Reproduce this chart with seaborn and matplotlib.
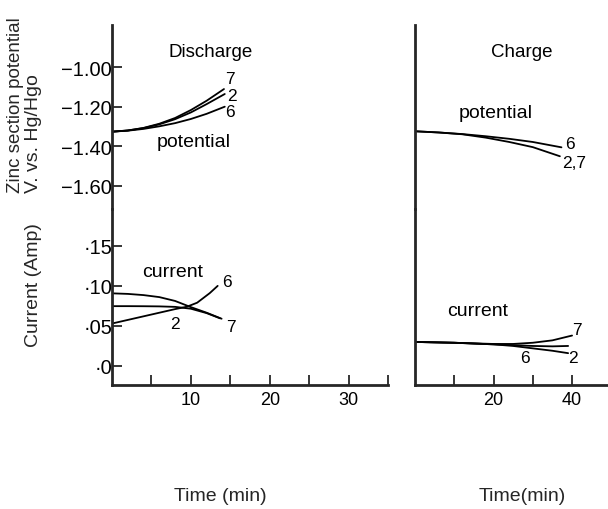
import matplotlib
matplotlib.use("Agg")
import matplotlib.pyplot as plt
import seaborn as sns
import pandas as pd

# ---------------- data ----------------
# Discharge: zinc section potential (V vs Hg/HgO), cells 7, 2, 6
dis_pot_time_7 = [0, 2, 4, 6, 8, 10, 12, 14.2]
dis_pot_7 = [-1.326, -1.320, -1.307, -1.286, -1.257, -1.217, -1.170, -1.111]
dis_pot_time_2 = [0, 2, 4, 6, 8, 10, 12, 14.3]
dis_pot_2 = [-1.326, -1.320, -1.308, -1.289, -1.263, -1.229, -1.187, -1.136]
dis_pot_time_6 = [0, 2, 4, 6, 8, 10, 12, 14.3]
dis_pot_6 = [-1.326, -1.321, -1.312, -1.299, -1.283, -1.262, -1.236, -1.200]

# Discharge: current (A)
dis_cur_time_7 = [0, 2, 4, 6, 8, 10, 12, 13.9]
dis_cur_7 = [0.0907, 0.0900, 0.0885, 0.0860, 0.0812, 0.0735, 0.0665, 0.0590]
dis_cur_time_2 = [0, 2, 4, 6, 8, 10, 12, 13.7]
dis_cur_2 = [0.0747, 0.0747, 0.0746, 0.0744, 0.0738, 0.0715, 0.0660, 0.0595]
dis_cur_time_6 = [0, 2, 4, 6, 8, 9.5, 10.8, 12.4, 13.4]
dis_cur_6 = [0.053, 0.0575, 0.062, 0.0665, 0.071, 0.074, 0.079, 0.091, 0.100]

# Charge: potential
chg_pot_time_6 = [0, 6, 12, 18, 24, 30, 37.3]
chg_pot_6 = [-1.324, -1.330, -1.338, -1.349, -1.362, -1.378, -1.405]
chg_pot_time_27 = [0, 6, 12, 18, 24, 30, 36.9]
chg_pot_27 = [-1.324, -1.330, -1.339, -1.356, -1.378, -1.404, -1.450]

# Charge: current
chg_cur_time_7 = [0, 10, 20, 25, 30, 35, 40]
chg_cur_7 = [0.030, 0.029, 0.0275, 0.0275, 0.029, 0.032, 0.038]
chg_cur_time_2 = [0, 10, 20, 25, 30, 35, 39]
chg_cur_2 = [0.030, 0.029, 0.027, 0.026, 0.025, 0.0245, 0.025]
chg_cur_time_6 = [0, 10, 20, 25, 30, 35, 39]
chg_cur_6 = [0.030, 0.029, 0.027, 0.025, 0.022, 0.019, 0.016]

# ticks
pot_ticks = [-1.00, -1.20, -1.40, -1.60]
pot_labels = ["\u22121.00", "\u22121.20", "\u22121.40", "\u22121.60"]
cur_ticks = [0.15, 0.10, 0.05, 0.0]
cur_labels = ["\u00b715", "\u00b710", "\u00b705", "\u00b70"]
dis_xticks = [5, 10, 15, 20, 25, 30, 35]
dis_xlabels = ["", "10", "", "20", "", "30", ""]
chg_xticks = [10, 20, 30, 40]
chg_xlabels = ["", "20", "", "40"]

# ---------------- style ----------------
sns.set_style("ticks")
plt.rcParams["font.family"] = ["Liberation Sans", "DejaVu Sans"]

W, H = 608, 510
fig = plt.figure(figsize=(W / 100, H / 100), dpi=100)

def px_axes(x0, y0, x1, y1):
    return fig.add_axes([x0 / W, 1 - y1 / H, (x1 - x0) / W, (y1 - y0) / H])

ax_dp = px_axes(112, 26, 388, 210)
ax_dc = px_axes(112, 210, 388, 386)
ax_cp = px_axes(415, 26, 607, 210)
ax_cc = px_axes(415, 210, 607, 386)

LW = 1.3
K = "black"

def line(ax, x, y):
    df = pd.DataFrame({"t": x, "v": y})
    sns.lineplot(data=df, x="t", y="v", ax=ax, color=K, lw=LW, sort=False, estimator=None)

line(ax_dp, dis_pot_time_7, dis_pot_7)
line(ax_dp, dis_pot_time_2, dis_pot_2)
line(ax_dp, dis_pot_time_6, dis_pot_6)
line(ax_dc, dis_cur_time_7, dis_cur_7)
line(ax_dc, dis_cur_time_2, dis_cur_2)
line(ax_dc, dis_cur_time_6, dis_cur_6)
line(ax_cp, chg_pot_time_6, chg_pot_6)
line(ax_cp, chg_pot_time_27, chg_pot_27)
line(ax_cc, chg_cur_time_7, chg_cur_7)
line(ax_cc, chg_cur_time_2, chg_cur_2)
line(ax_cc, chg_cur_time_6, chg_cur_6)

pot_lim = (-1.716, -0.788)
cur_lim = (-0.02375, 0.196)
for ax in (ax_dp, ax_cp):
    ax.set_ylim(*pot_lim)
for ax in (ax_dc, ax_cc):
    ax.set_ylim(*cur_lim)
for ax in (ax_dp, ax_dc):
    ax.set_xlim(0, 35)
for ax in (ax_cp, ax_cc):
    ax.set_xlim(0, 48.9)

for ax in (ax_dp, ax_dc, ax_cp, ax_cc):
    ax.set_xlabel("")
    ax.set_ylabel("")
    ax.patch.set_alpha(0)
    for s in ("top", "right"):
        ax.spines[s].set_visible(False)
    ax.spines["left"].set_linewidth(2.0)
    ax.spines["bottom"].set_linewidth(2.0)
    ax.tick_params(direction="in", length=7, width=1.1, colors=K)
    ax.tick_params(axis="x", labelsize=13, pad=4)
    ax.tick_params(axis="y", labelsize=14.5, pad=0)

for ax in (ax_dp, ax_cp):
    ax.spines["bottom"].set_visible(False)
    ax.set_xticks([])

ax_dp.set_yticks(pot_ticks, pot_labels)
ax_dc.set_yticks(cur_ticks, cur_labels)
ax_cp.set_yticks([])
ax_cc.set_yticks([])
ax_dc.set_xticks(dis_xticks, dis_xlabels)
ax_cc.set_xticks(chg_xticks, chg_xlabels)

FS = 14
NS = 12.5
def t(ax, x, y, s, size=FS):
    ax.text(x, y, s, ha="center", va="center", fontsize=size, color=K)

t(ax_dp, 12.5, -0.924, "Discharge", 13.5)
t(ax_dp, 10.4, -1.378, "potential")
t(ax_dp, 15.0, -1.056, "7", NS)
t(ax_dp, 15.2, -1.142, "2", NS)
t(ax_dp, 15.0, -1.224, "6", NS)

t(ax_dc, 7.7, 0.1175, "current")
t(ax_dc, 14.6, 0.106, "6", NS)
t(ax_dc, 8.0, 0.0525, "2", NS)
t(ax_dc, 15.1, 0.049, "7", NS)

t(ax_cp, 27.2, -0.924, "Charge", 13.5)
t(ax_cp, 20.6, -1.227, "potential")
t(ax_cp, 39.4, -1.388, "6", NS)
t(ax_cp, 40.4, -1.479, "2,7", NS)

t(ax_cc, 16.0, 0.069, "current")
t(ax_cc, 41.2, 0.046, "7", NS)
t(ax_cc, 40.2, 0.011, "2", NS)
t(ax_cc, 28.0, 0.011, "6", NS)

# axis titles
fig.text(15 / W, 1 - 193 / H, "Zinc section potential", rotation=90, rotation_mode="anchor",
         ha="left", va="center", fontsize=13.5)
fig.text(33 / W, 1 - 193 / H, "V. vs. Hg/Hgo", rotation=90, rotation_mode="anchor",
         ha="left", va="center", fontsize=FS)
fig.text(33 / W, 1 - 285 / H, "Current (Amp)", rotation=90, rotation_mode="anchor",
         ha="center", va="center", fontsize=FS)
fig.text(220 / W, 1 - 497 / H, "Time (min)", ha="center", va="center", fontsize=FS)
fig.text(522 / W, 1 - 497 / H, "Time(min)", ha="center", va="center", fontsize=FS)

fig.savefig("out.png", dpi=100)
